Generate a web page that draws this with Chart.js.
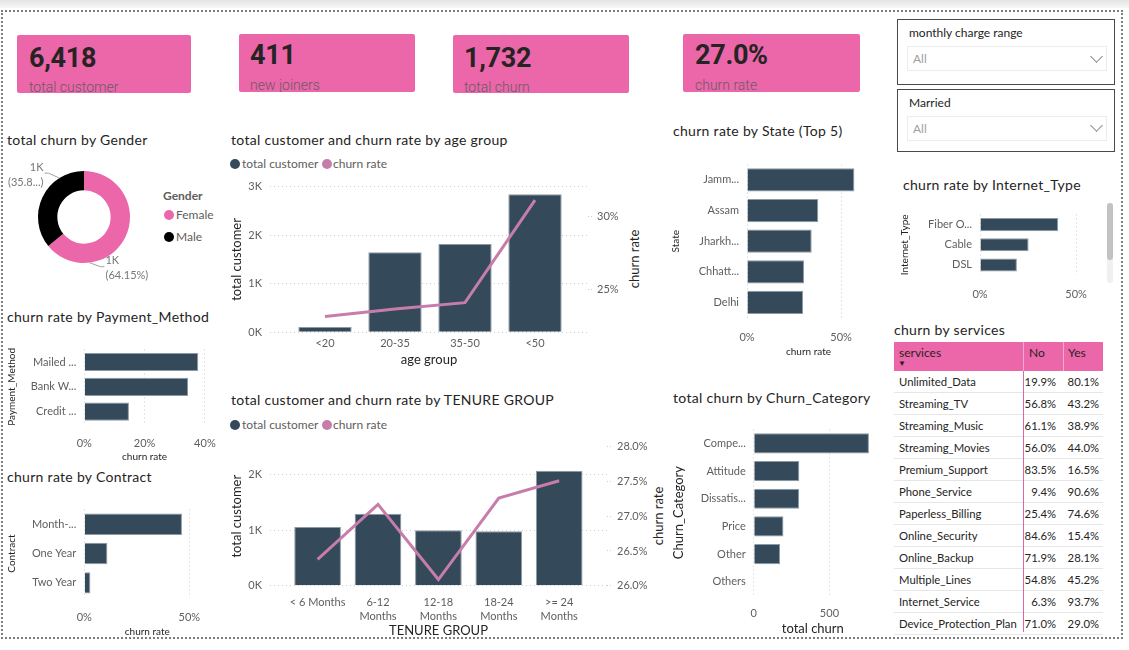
<!DOCTYPE html>
<html>
<head>
<meta charset="utf-8">
<title>Customer churn dashboard</title>
<script src="https://cdn.jsdelivr.net/npm/chart.js@4.4.1/dist/chart.umd.min.js"></script>
<style>
  body { margin:0; width:1129px; height:650px; position:relative; overflow:hidden; background:#fff;
         font-family: Lato, "Open Sans", sans-serif; color:#252423; }
  .a { position:absolute; white-space:nowrap; }
  canvas { position:absolute; }
  #topbar { left:0; top:0; width:1129px; height:8px; background:linear-gradient(#e4e4e4,#f7f7f7); }
  #frame { left:1px; top:10px; width:1122px; height:629px; border:2px dotted #7d7d7d; box-sizing:border-box; }
  .card { position:absolute; background:#EC66AA; overflow:hidden; border-radius:2px; }
  .card .v { position:absolute; font-weight:bold; font-size:27px; line-height:28px; color:#252423;
             font-family:Roboto, "Liberation Sans", sans-serif; letter-spacing:-0.3px; }
  .card .l { position:absolute; font-size:14px; line-height:16px; color:#6b5b63; font-weight:300;
             font-family:Roboto, "Liberation Sans", sans-serif; }
  .t { font-size:14px; line-height:18px; letter-spacing:0.3px; color:#252423; }
  .lg { font-size:12px; line-height:16px; color:#605E5C; }
  .dot { position:absolute; width:10px; height:10px; border-radius:50%; }
  .slicer { position:absolute; border:1px solid #4a4a4a; box-sizing:border-box; }
  .slicer .h { position:absolute; left:11px; font-size:12px; line-height:16px; color:#252423; }
  .slicer .dd { position:absolute; left:9px; width:200px; height:25px; border:1px solid #ececec; box-sizing:border-box; }
  .slicer .dd span { position:absolute; left:5px; top:4px; font-size:12px; line-height:16px; color:#a0a0a0; }
  .chev { position:absolute; width:8px; height:8px; border-right:1px solid #888; border-bottom:1px solid #888; transform:rotate(45deg); }
  .rt { font-size:13px; line-height:16px; color:#252423; transform:translate(-50%,-50%) rotate(-90deg); }
  #svc { left:894px; top:342px; width:209px; font-size:11.3px; }
  #svc .th { position:relative; height:28.7px; background:#EC66AA; font-size:12px; }
  #svc .tr { position:relative; height:22px; border-bottom:1px solid #e6e6e6; box-sizing:border-box; line-height:21px; }
  #svc .c { position:absolute; top:0; white-space:nowrap; }
</style>
</head>
<body>
<div id="topbar" class="a"></div>
<div id="frame" class="a"></div>

<div id="cards"></div>

<!-- slicers -->
<div class="slicer" style="left:897px;top:19px;width:218px;height:66px;">
  <div class="h" style="top:5px;">monthly charge range</div>
  <div class="dd" style="top:26px;"><span>All</span></div>
  <div class="chev" style="left:194px;top:32px;"></div>
</div>
<div class="slicer" style="left:897px;top:89px;width:218px;height:63px;">
  <div class="h" style="top:5px;">Married</div>
  <div class="dd" style="top:26px;"><span>All</span></div>
  <div class="chev" style="left:194px;top:31px;"></div>
</div>

<!-- titles -->
<div class="a t" style="left:7px;top:130.5px;">total churn by Gender</div>
<div class="a t" style="left:231px;top:131px;">total customer and churn rate by age group</div>
<div class="a t" style="left:231px;top:391px;">total customer and churn rate by TENURE GROUP</div>
<div class="a t" style="left:673px;top:122px;">churn rate by State (Top 5)</div>
<div class="a t" style="left:673px;top:389px;">total churn by Churn_Category</div>
<div class="a t" style="left:903px;top:176px;">churn rate by Internet_Type</div>
<div class="a t" style="left:7px;top:308px;">churn rate by Payment_Method</div>
<div class="a t" style="left:7px;top:468px;">churn rate by Contract</div>
<div class="a t" style="left:894px;top:321px;">churn by services</div>

<!-- gender legend -->
<div class="a lg" style="left:163px;top:188px;font-weight:bold;">Gender</div>
<div class="dot" style="left:164px;top:210px;background:#EC66AA;"></div>
<div class="a lg" style="left:176px;top:207px;">Female</div>
<div class="dot" style="left:164px;top:232px;background:#000;"></div>
<div class="a lg" style="left:176px;top:229px;">Male</div>

<!-- combo legends -->
<div class="dot" style="left:230px;top:159px;background:#34495A;"></div>
<div class="a lg" style="left:242px;top:156px;">total customer</div>
<div class="dot" style="left:321.5px;top:159px;background:#C77DAB;"></div>
<div class="a lg" style="left:333px;top:156px;">churn rate</div>
<div class="dot" style="left:230px;top:420px;background:#34495A;"></div>
<div class="a lg" style="left:242px;top:417px;">total customer</div>
<div class="dot" style="left:321.5px;top:420px;background:#C77DAB;"></div>
<div class="a lg" style="left:333px;top:417px;">churn rate</div>

<!-- right axis titles -->
<div class="a rt" style="left:634px;top:258.5px;">churn rate</div>
<div class="a rt" style="left:658px;top:515.5px;">churn rate</div>

<!-- scrollbar of the internet type visual -->
<div class="a" style="left:1107px;top:203px;width:6px;height:80px;background:#f0f0f0;border-radius:3px;"></div>
<div class="a" style="left:1107px;top:203px;width:6px;height:57px;background:#c2c2c2;border-radius:3px;"></div>

<canvas id="gender"></canvas>
<canvas id="age"></canvas>
<canvas id="tenure"></canvas>
<canvas id="state"></canvas>
<canvas id="category"></canvas>
<canvas id="internet"></canvas>
<canvas id="payment"></canvas>
<canvas id="contract"></canvas>

<div id="svc" class="a"></div>
<div class="a" style="left:1023px;top:370.7px;width:1px;height:261px;background:#E066A6;"></div>

<script>
// ---------- data ----------
const kpiValues = ["6,418", "411", "1,732", "27.0%"];
const kpiLabels = ["total customer", "new joiners", "total churn", "churn rate"];

const genders = ["Female", "Male"];
const genderChurn = [1111, 621];

const ageGroups = ["<20", "20-35", "35-50", "<50"];
const ageCustomers = [107, 1648, 1820, 2843];
const ageChurnRate = [23.18, 23.7, 24.13, 31.12];
const ageCustomerTicks = [0, 1000, 2000, 3000];
const ageRateTicks = [25, 30];

const tenureGroups = ["< 6 Months", "6-12\nMonths", "12-18\nMonths", "18-24\nMonths", ">= 24\nMonths"];
const tenureCustomers = [1060, 1300, 1000, 985, 2073];
const tenureChurnRate = [26.38, 27.17, 26.09, 27.26, 27.51];
const tenureCustomerTicks = [0, 1000, 2000];
const tenureRateTicks = [26, 26.5, 27, 27.5, 28];

const states = ["Jamm...", "Assam", "Jharkh...", "Chhatt...", "Delhi"];
const stateChurnRate = [57.1, 37.9, 34.4, 30.3, 29.8];
const stateTicks = [0, 50];

const churnCategories = ["Compe...", "Attitude", "Dissatis...", "Price", "Other", "Others"];
const categoryChurn = [761, 301, 300, 196, 174, 0];
const categoryTicks = [0, 500];

const internetTypes = ["Fiber O...", "Cable", "DSL"];
const internetChurnRate = [40.7, 25.3, 19.2];
const internetTicks = [0, 50];

const paymentMethods = ["Mailed ...", "Bank W...", "Credit ..."];
const paymentChurnRate = [37.8, 34.4, 14.8];
const paymentTicks = [0, 20, 40];

const contracts = ["Month-...", "One Year", "Two Year"];
const contractChurnRate = [46.5, 11.0, 2.9];
const contractTicks = [0, 50];

const services = ["Unlimited_Data", "Streaming_TV", "Streaming_Music", "Streaming_Movies", "Premium_Support",
  "Phone_Service", "Paperless_Billing", "Online_Security", "Online_Backup", "Multiple_Lines",
  "Internet_Service", "Device_Protection_Plan"];
const serviceNo = [19.9, 56.8, 61.1, 56.0, 83.5, 9.4, 25.4, 84.6, 71.9, 54.8, 6.3, 71.0];
const serviceYes = [80.1, 43.2, 38.9, 44.0, 16.5, 90.6, 74.6, 15.4, 28.1, 45.2, 93.7, 29.0];

// ---------- styles ----------
const BAR = '#34495A';
const BAR_EDGE = '#8d9aa5';
const LINE = '#C77DAB';
const PINK = '#EC66AA';
const GRID = '#cdcdcd';
const INK = '#252423';

Chart.defaults.font.family = 'Lato, "Open Sans", sans-serif';
Chart.defaults.color = '#605E5C';
Chart.defaults.animation = false;
Chart.defaults.plugins.legend.display = false;
Chart.defaults.plugins.tooltip.enabled = false;

// ---------- kpi cards ----------
const cardBoxes = [
  { l: 17, t: 35, w: 174, h: 58, vx: 12, vy: 57.6, ly: 87 },
  { l: 239, t: 34, w: 176, h: 57.5, vx: 11, vy: 55, ly: 84.7 },
  { l: 453, t: 35, w: 176, h: 58, vx: 11, vy: 57.6, ly: 87 },
  { l: 683, t: 34, w: 177, h: 57.5, vx: 12, vy: 55, ly: 84.7 }
];
const cardsEl = document.getElementById('cards');
kpiValues.forEach(function (val, i) {
  const b = cardBoxes[i];
  const c = document.createElement('div');
  c.className = 'card';
  c.style.cssText = 'left:' + b.l + 'px;top:' + b.t + 'px;width:' + b.w + 'px;height:' + b.h + 'px;';
  c.innerHTML = '<div class="v" style="left:' + b.vx + 'px;top:' + (b.vy - 14 - b.t) + 'px;">' + val + '</div>' +
                '<div class="l" style="left:' + b.vx + 'px;top:' + (b.ly - 8 - b.t) + 'px;">' + kpiLabels[i] + '</div>';
  cardsEl.appendChild(c);
});

// ---------- services table ----------
const svc = document.getElementById('svc');
let html = '<div class="th">' +
  '<div class="c" style="left:5px;top:3px;line-height:16px;color:' + INK + ';">services</div>' +
  '<div class="c" style="left:4px;top:16px;font-size:8px;line-height:10px;color:' + INK + ';">&#9660;</div>' +
  '<div class="c" style="left:129px;width:1px;height:100%;background:rgba(255,255,255,0.45);"></div>' +
  '<div class="c" style="left:169px;width:1px;height:100%;background:rgba(255,255,255,0.45);"></div>' +
  '<div class="c" style="left:135px;top:3px;line-height:16px;color:' + INK + ';">No</div>' +
  '<div class="c" style="left:174px;top:3px;line-height:16px;color:' + INK + ';">Yes</div></div>';
services.forEach(function (s, i) {
  html += '<div class="tr">' +
    '<div class="c" style="left:5px;">' + s + '</div>' +
    '<div class="c" style="left:129px;width:33px;text-align:right;">' + serviceNo[i].toFixed(1) + '%</div>' +
    '<div class="c" style="left:169px;width:36px;text-align:right;">' + serviceYes[i].toFixed(1) + '%</div></div>';
});
svc.innerHTML = html;

// ---------- helpers ----------
function place(id, box) {
  const cv = document.getElementById(id);
  cv.width = box.w;
  cv.height = box.h;
  cv.style.left = box.l + 'px';
  cv.style.top = box.t + 'px';
  return cv;
}
function listTicks(vals) {
  return function (scale) { scale.ticks = vals.map(function (v) { return { value: v }; }); };
}
const pct0 = function (v) { return v + '%'; };

// horizontal bar chart; box = canvas rect, area = wanted chart area
function hbar(id, box, area, labels, values, o) {
  const cv = place(id, box);
  new Chart(cv, {
    type: 'bar',
    data: {
      labels: labels,
      datasets: [{ data: values, backgroundColor: BAR, borderColor: BAR_EDGE, borderWidth: 1,
                   barPercentage: o.bar, categoryPercentage: 1 }]
    },
    options: {
      indexAxis: 'y',
      responsive: false,
      layout: { padding: { top: area.t - box.t, right: box.l + box.w - area.r, left: 0, bottom: 0 } },
      scales: {
        x: {
          min: 0, max: o.max,
          afterBuildTicks: listTicks(o.ticks),
          afterFit: function (s) { s.height = box.t + box.h - area.b; },
          ticks: { padding: o.pad, font: { size: 11 }, callback: o.fmt, maxRotation: 0 },
          grid: { color: GRID, drawTicks: false },
          border: { display: false, dash: [1, 3] },
          title: { display: !!o.xTitle, text: o.xTitle || '', color: INK, font: { size: o.xSize || 10 }, padding: 0 }
        },
        y: {
          afterFit: function (s) { s.width = area.l - box.l; },
          ticks: { padding: 8, font: { size: 11 }, autoSkip: false },
          grid: { display: false, drawTicks: false },
          border: { display: false },
          title: { display: true, text: o.yTitle, color: INK, font: { size: o.ySize || 10 }, padding: 0 }
        }
      }
    }
  });
}

// bars + line on a second axis; categories sit at c0 + i*step pixels
function combo(id, box, area, labels, bars, rates, o) {
  const cv = place(id, box);
  new Chart(cv, {
    type: 'bar',
    data: {
      datasets: [
        { type: 'line', yAxisID: 'y1', order: 0,
          data: labels.map(function (c, i) { return { x: i, y: rates[i] }; }),
          borderColor: LINE, borderWidth: 3, pointRadius: 0, tension: 0 },
        { type: 'bar', yAxisID: 'y', order: 1,
          data: labels.map(function (c, i) { return { x: i, y: bars[i] }; }),
          backgroundColor: BAR, borderColor: BAR_EDGE, borderWidth: 1,
          barPercentage: o.bar, categoryPercentage: 1 }
      ]
    },
    options: {
      responsive: false,
      layout: { padding: { top: area.t - box.t, left: 0, right: 0, bottom: 0 } },
      scales: {
        x: {
          type: 'linear', offset: false,
          min: (area.l - o.c0) / o.step, max: (area.r - o.c0) / o.step,
          afterBuildTicks: listTicks(labels.map(function (c, i) { return i; })),
          afterFit: function (s) { s.height = box.t + box.h - area.b; },
          ticks: {
            padding: o.xPad, autoSkip: false, maxRotation: 0, minRotation: 0,
            font: { size: 11, lineHeight: o.xLh || 1.2 },
            callback: function (v) { const s = labels[v]; return s.indexOf('\n') >= 0 ? s.split('\n') : s; }
          },
          grid: { display: false, drawTicks: false, offset: false },
          border: { display: false },
          title: { display: true, text: o.xTitle, color: INK, font: { size: 13 }, padding: 0 }
        },
        y: {
          position: 'left', min: 0, max: o.barMax,
          afterBuildTicks: listTicks(o.barTicks),
          afterFit: function (s) { s.width = area.l - box.l; },
          ticks: { padding: 8, font: { size: 11 }, callback: function (v) { return (v / 1000) + 'K'; } },
          grid: { color: GRID, drawTicks: false },
          border: { display: false, dash: [1, 3] },
          title: { display: true, text: 'total customer', color: INK, font: { size: 13 }, padding: 0 }
        },
        y1: {
          position: 'right', min: o.rateMin, max: o.rateMax,
          afterBuildTicks: listTicks(o.rateTicks),
          afterFit: function (s) { s.width = box.l + box.w - area.r; },
          ticks: { padding: o.rPad, font: { size: 11 }, callback: o.rateFmt },
          grid: { drawOnChartArea: false, drawTicks: true, tickLength: o.tl, tickColor: GRID, tickBorderDash: [1, 2] },
          border: { display: false }
        }
      }
    }
  });
}

// ---------- donut ----------
const sliceLabels = {
  id: 'sliceLabels',
  afterDatasetsDraw: function (chart) {
    const ctx = chart.ctx;
    const vals = chart.data.datasets[0].data;
    const total = vals.reduce(function (a, b) { return a + b; }, 0);
    ctx.save();
    chart.getDatasetMeta(0).data.forEach(function (arc, i) {
      const p = arc.getProps(['x', 'y', 'startAngle', 'endAngle', 'outerRadius']);
      const a = p.startAngle + 0.75 * (p.endAngle - p.startAngle);
      const x0 = p.x + Math.cos(a) * p.outerRadius;
      const y0 = p.y + Math.sin(a) * p.outerRadius;
      const dir = Math.cos(a) >= 0 ? 1 : -1;
      const x1 = x0 + dir * 11, y1 = y0 + (Math.sin(a) < 0 ? -5 : 4);
      const x2 = x1 + dir * 4;
      ctx.strokeStyle = '#a3a3a3';
      ctx.lineWidth = 1;
      ctx.beginPath(); ctx.moveTo(x0, y0); ctx.lineTo(x1, y1); ctx.lineTo(x2, y1); ctx.stroke();
      let pct = (vals[i] / total * 100).toFixed(2) + '%';
      if (i === 1) pct = pct.slice(0, 4) + '...';   // label is cut like in the report
      ctx.fillStyle = '#777';
      ctx.font = '11px Lato, "Open Sans", sans-serif';
      ctx.textAlign = dir > 0 ? 'left' : 'right';
      ctx.textBaseline = 'middle';
      const tx = x2 + dir * 1;
      ctx.fillText(Math.round(vals[i] / 1000) + 'K', tx, y1 - 6);
      ctx.fillText('(' + pct + ')', tx, y1 + 9);
    });
    ctx.restore();
  }
};

new Chart(place('gender', { l: 5, t: 155, w: 158, h: 130 }), {
  type: 'doughnut',
  data: { labels: genders, datasets: [{ data: genderChurn, backgroundColor: [PINK, '#000000'], borderWidth: 0 }] },
  options: { responsive: false, cutout: '58%', layout: { padding: { top: 16, bottom: 22 } } },
  plugins: [sliceLabels]
});

// ---------- combo charts ----------
combo('age', { l: 229, t: 172, w: 401, h: 196 }, { l: 270, r: 588, t: 184.7, b: 332.3 },
  ageGroups, ageCustomers, ageChurnRate,
  { c0: 325, step: 70, bar: 0.762, xPad: 5, xTitle: 'age group',
    barMax: 3000, barTicks: ageCustomerTicks,
    rateMin: 22.11, rateMax: 32.04, rateTicks: ageRateTicks, rateFmt: pct0, tl: 5, rPad: 4 });

combo('tenure', { l: 229, t: 432, w: 421, h: 207.5 }, { l: 270, r: 607, t: 444.3, b: 586.3 },
  tenureGroups, tenureCustomers, tenureChurnRate,
  { c0: 317.6, step: 60.4, bar: 0.773, xPad: 10, xLh: 1.27, xTitle: 'TENURE GROUP',
    barMax: 2510, barTicks: tenureCustomerTicks,
    rateMin: 26, rateMax: 28, rateTicks: tenureRateTicks,
    rateFmt: function (v) { return v.toFixed(1) + '%'; }, tl: 4, rPad: 6 });

// ---------- horizontal bars ----------
hbar('state', { l: 670, t: 150, w: 215, h: 208.3 }, { l: 747, r: 870, t: 158, b: 318 },
  states, stateChurnRate,
  { bar: 0.76, max: 65.4, ticks: stateTicks, fmt: pct0, pad: 12.7, yTitle: 'State', xTitle: 'churn rate' });

hbar('category', { l: 671.2, t: 415, w: 214, h: 222.8 }, { l: 754, r: 872, t: 424.3, b: 596.4 },
  churnCategories, categoryChurn,
  { bar: 0.73, max: 780, ticks: categoryTicks, fmt: function (v) { return v; }, pad: 11,
    yTitle: 'Churn_Category', ySize: 13, xTitle: 'total churn', xSize: 13 });

hbar('internet', { l: 899, t: 200, w: 201, h: 104 }, { l: 980, r: 1095, t: 207, b: 275 },
  internetTypes, internetChurnRate,
  { bar: 0.65, max: 59.1, ticks: internetTicks, fmt: pct0, pad: 12.4, yTitle: 'Internet_Type' });

hbar('payment', { l: 6, t: 335, w: 222, h: 128.3 }, { l: 84.3, r: 210.3, t: 343.9, b: 424.4 },
  paymentMethods, paymentChurnRate,
  { bar: 0.73, max: 40, ticks: paymentTicks, fmt: pct0, pad: 12.3, yTitle: 'Payment_Method', xTitle: 'churn rate' });

hbar('contract', { l: 6, t: 495, w: 222, h: 143.7 }, { l: 84.3, r: 210.3, t: 505.2, b: 598.2 },
  contracts, contractChurnRate,
  { bar: 0.73, max: 60, ticks: contractTicks, fmt: pct0, pad: 12.9, yTitle: 'Contract', xTitle: 'churn rate' });
</script>
</body>
</html>
